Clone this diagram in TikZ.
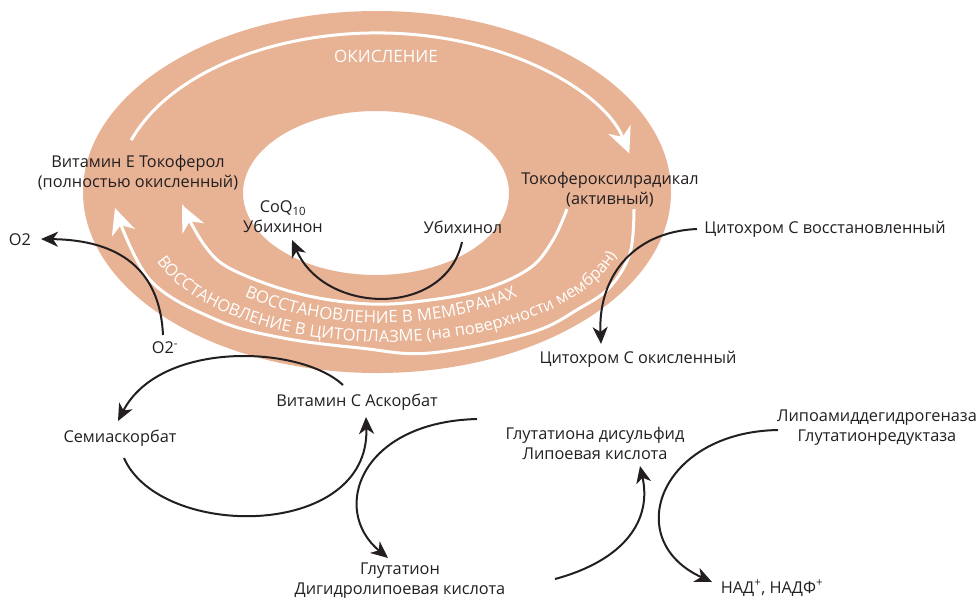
\documentclass[tikz,border=0pt]{standalone}
\usepackage{fontspec}
\setmainfont{Open Sans}
\usetikzlibrary{arrows.meta,decorations.text}
\definecolor{ringc}{RGB}{232,178,148}
\definecolor{ink}{RGB}{35,31,32}
\begin{document}
\begin{tikzpicture}[x=1pt,y=-1pt,
  lbl/.style={text=ink, align=center, font=\fontsize{16.3}{20}\selectfont, inner sep=0pt},
  blk/.style={draw=ink, line width=2pt, -{Stealth[length=17pt,width=15pt,inset=5pt]}},
  wht/.style={draw=white, line width=3pt, -{Stealth[length=26pt,width=24pt,inset=8pt]}},
]
\useasboundingbox (0,0) rectangle (979,598);
% ring
\fill[ringc, even odd rule] (377,192) ellipse[x radius=294, y radius=181]
                            (376,193) ellipse[x radius=133, y radius=82];
% white arrows in the ring
\draw[wht] (131.2,140.2) arc[start angle=-161, end angle=-14, x radius=260, y radius=159];
\draw[wht] plot[smooth, tension=0.6] coordinates {(567,209) (553,240) (530,268) (485,289) (430,300) (370,304) (300,294) (233,270) (205,246) (182,205)};
\draw[wht] plot[smooth, tension=0.6] coordinates {(634,209) (630,253) (610,287) (580,308) (530,333) (430,353) (360,348) (283,338) (217,320) (150,280) (115,208)};
% curved white texts
\path[decorate, decoration={text along path, text align=center, text color=white,
  text={|\fontsize{16.8}{16.8}\selectfont|ВОССТАНОВЛЕНИЕ В МЕМБРАНАХ}}]
  (199.1,268) arc[start angle=150, end angle=30, x radius=210, y radius=110];
\path[decorate, decoration={text along path, text align=left, text color=white,
  text={|\fontsize{16.5}{16.5}\selectfont|ВОССТАНОВЛЕНИЕ В ЦИТОПЛАЗМЕ (на поверхности мембран)}}]
  (156.7,261.2) arc[start angle=162, end angle=-20, x radius=240, y radius=117];
% labels
\node[lbl, text=white, font=\fontsize{17}{20}\selectfont] (okisl) at (386,56) {ОКИСЛЕНИЕ};
\node[lbl] (vitE) at (138,173) {Витамин Е Токоферол\\(полностью окисленный)};
\node[lbl] (tokorad) at (610,190) {Токофероксилрадикал\\(активный)};
\node[lbl] (ubihinon) at (283,217) {CoQ\textsubscript{10}\\Убихинон};
\node[lbl] (ubihinol) at (463,227) {Убихинол};
\node[lbl] (cytred) at (825,229) {Цитохром С восстановленный};
\node[lbl] (cytox) at (638,359) {Цитохром С окисленный};
\node[lbl] (o2) at (20,240) {O2};
\node[lbl] (o2m) at (165,348) {O2\textsuperscript{-}};
\node[lbl] (vitC) at (357,402) {Витамин С Аскорбат};
\node[lbl] (semi) at (120,438) {Семиаскорбат};
\node[lbl] (gsh) at (400,580.5) {Глутатион\\Дигидролипоевая кислота};
\node[lbl] (gssg) at (595,443) {Глутатиона дисульфид\\Липоевая кислота};
\node[lbl] (lipoam) at (877,428) {Липоамиддегидрогеназа\\Глутатионредуктаза};
\node[lbl] (nad) at (772,588) {НАД\textsuperscript{+}, НАДФ\textsuperscript{+}};
% connector end points
\coordinate (ubihinolS) at (462,242);
\coordinate (ubihinonS) at (292,240);
\coordinate (cytredW) at (697,229);
\coordinate (cytoxN) at (601,344);
\coordinate (o2mN) at (163,335);
\coordinate (o2E) at (41,239);
\coordinate (vitCN) at (343,385);
\coordinate (semiN) at (118,421);
\coordinate (semiS) at (124,458);
\coordinate (vitCS) at (366,417);
\coordinate (gssgW) at (477,419);
\coordinate (gshN) at (388,558);
\coordinate (gshE) at (555,579);
\coordinate (gssgS) at (640,466);
\coordinate (lipoamW) at (778,430);
\coordinate (nadW) at (712,582);
% black connectors
\draw[blk] (ubihinolS) .. controls (445,318) and (325,315) .. (ubihinonS);
\draw[blk] (cytredW) .. controls (630,232) and (598,280) .. (cytoxN);
\draw[blk] (o2mN) .. controls (160,270) and (120,240) .. (o2E);
\draw[blk] (vitCN) .. controls (300,345) and (160,340) .. (semiN);
\draw[blk] (semiS) .. controls (160,540) and (370,540) .. (vitCS);
\draw[blk] (gssgW) .. controls (360,422) and (330,510) .. (gshN);
\draw[blk] (gshE) .. controls (625,560) and (652,520) .. (gssgS);
\draw[blk] (lipoamW) .. controls (660,432) and (620,540) .. (nadW);
\end{tikzpicture}
\end{document}
